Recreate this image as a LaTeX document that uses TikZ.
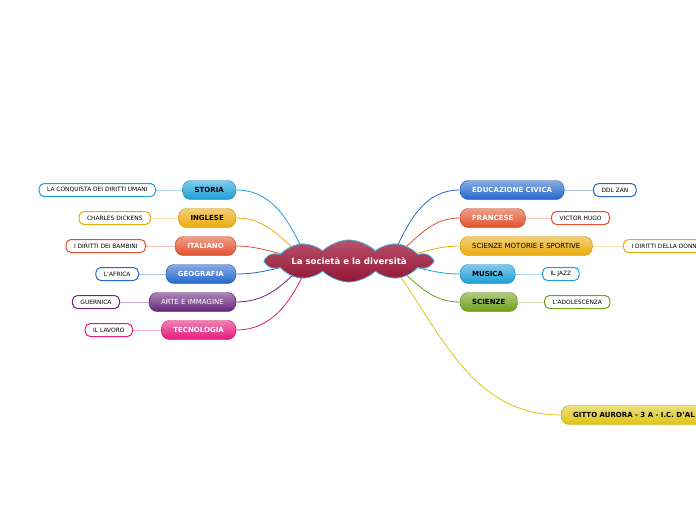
\documentclass[tikz,border=0pt]{standalone}
\usepackage{fontspec}
\setmainfont{DejaVu Sans}
\usepackage{xcolor}
\usetikzlibrary{shapes.symbols,backgrounds,calc}

\definecolor{cielo}{HTML}{1C9ED8}
\definecolor{giallo}{HTML}{EAAA08}
\definecolor{arancio}{HTML}{E2502C}
\definecolor{blu}{HTML}{2466CC}
\definecolor{viola}{HTML}{642478}
\definecolor{rosa}{HTML}{E4187A}
\definecolor{verde}{HTML}{6EA018}
\definecolor{oro}{HTML}{DCC414}
\definecolor{bordeaux}{HTML}{A2183A}

\begin{document}
\begin{tikzpicture}[
  x=1pt, y=-1pt,
  subj/.style={rounded corners=8pt, draw=#1!85!black, line width=0.4pt,
               top color=#1!55!white, bottom color=#1, minimum height=19pt,
               inner xsep=12pt, inner ysep=0pt, font=\bfseries\fontsize{7}{8}\selectfont},
  leaf/.style={draw=#1, line width=1pt, fill=white, rounded corners=5pt,
               minimum height=13pt, inner xsep=8pt, inner ysep=0pt,
               font=\fontsize{5.9}{6.5}\selectfont},
  link/.style={draw=#1, line width=0.8pt},
  twig/.style={draw=#1!35!white, line width=1pt}
]
\useasboundingbox (0,0) rectangle (696,520);
\clip (0,0) rectangle (696,520);

% centro
\node[cloud, cloud puffs=10, cloud puff arc=90, aspect=8,
      inner xsep=2.5pt, inner ysep=0pt,
      draw=cielo!80!white, line width=0.8pt,
      top color=bordeaux!75!white, bottom color=bordeaux!90!black,
      text=white, font=\bfseries\fontsize{8.6}{9}\selectfont] (soc) at (349,261) {La società e la diversità};

% materie a sinistra
\node[subj=cielo, anchor=east] (storia) at (236,190) {STORIA};
\node[subj=giallo, anchor=east] (inglese) at (236,218) {INGLESE};
\node[subj=arancio, anchor=east, text=white] (italiano) at (236,246) {ITALIANO};
\node[subj=blu, anchor=east, text=white] (geografia) at (236,274) {GEOGRAFIA};
\node[subj=viola, anchor=east, text=white, font=\fontsize{7}{8}\selectfont] (arte) at (236,302) {ARTE E IMMAGINE};
\node[subj=rosa, anchor=east, text=white] (tecnologia) at (236,330) {TECNOLOGIA};

% materie a destra
\node[subj=blu, anchor=west, text=white] (civica) at (460,190) {EDUCAZIONE CIVICA};
\node[subj=arancio, anchor=west, text=white] (francese) at (460,218) {FRANCESE};
\node[subj=giallo, anchor=west, font=\fontsize{7}{8}\selectfont] (motorie) at (460,246) {SCIENZE MOTORIE E SPORTIVE};
\node[subj=cielo, anchor=west] (musica) at (460,274) {MUSICA};
\node[subj=verde, anchor=west] (scienze) at (460,302) {SCIENZE};
\node[subj=oro, anchor=west, inner xsep=12pt] (autrice) at (561,415) {GITTO AURORA - 3 A - I.C. D'AL\hspace{20pt}};

% argomenti
\node[leaf=cielo, anchor=east] (diritti) at (156,190) {LA CONQUISTA DEI DIRITTI UMANI};
\node[leaf=giallo, anchor=east] (dickens) at (151,218) {CHARLES DICKENS};
\node[leaf=arancio, anchor=east] (bambini) at (146,246) {I DIRITTI DEI BAMBINI};
\node[leaf=blu, anchor=east] (africa) at (139,274) {L'AFRICA};
\node[leaf=viola, anchor=east] (guernica) at (120,302) {GUERNICA};
\node[leaf=rosa, anchor=east] (lavoro) at (133,330) {IL LAVORO};
\node[leaf=blu, anchor=west] (zan) at (593,190) {DDL ZAN};
\node[leaf=arancio, anchor=west] (hugo) at (551,218) {VICTOR HUGO};
\node[leaf=giallo, anchor=west] (donna) at (623,246) {I DIRITTI DELLA DONNA};
\node[leaf=cielo, anchor=west] (jazz) at (542,274) {IL JAZZ};
\node[leaf=verde, anchor=west] (adolescenza) at (544,302) {L'ADOLESCENZA};

\begin{pgfonlayer}{background}
\draw[link=cielo] (storia.east) to[out=0,in=115] ($(soc.center)+(-45,-8)$);
\draw[link=giallo] (inglese.east) to[out=0,in=140] ($(soc.center)+(-50,-8)$);
\draw[link=arancio] (italiano.east) to[out=0,in=172] ($(soc.center)+(-55,-5)$);
\draw[link=blu] (geografia.east) to[out=0,in=190] ($(soc.center)+(-55,4)$);
\draw[link=viola] (arte.east) to[out=0,in=225] ($(soc.center)+(-48,6)$);
\draw[link=rosa] (tecnologia.east) to[out=0,in=245] ($(soc.center)+(-42,6)$);
\draw[link=blu] (civica.west) to[out=180,in=65] ($(soc.center)+(45,-8)$);
\draw[link=arancio] (francese.west) to[out=180,in=40] ($(soc.center)+(50,-8)$);
\draw[link=giallo] (motorie.west) to[out=180,in=10] ($(soc.center)+(55,-5)$);
\draw[link=cielo] (musica.west) to[out=180,in=-10] ($(soc.center)+(55,4)$);
\draw[link=verde] (scienze.west) to[out=180,in=-40] ($(soc.center)+(48,6)$);
\draw[link=oro] (autrice.west) to[out=180,in=-55] ($(soc.center)+(45,6)$);

\draw[twig=cielo] (diritti) -- (storia);
\draw[twig=giallo] (dickens) -- (inglese);
\draw[twig=arancio] (bambini) -- (italiano);
\draw[twig=blu] (africa) -- (geografia);
\draw[twig=viola] (guernica) -- (arte);
\draw[twig=rosa] (lavoro) -- (tecnologia);
\draw[twig=blu] (civica) -- (zan);
\draw[twig=arancio] (francese) -- (hugo);
\draw[twig=giallo] (motorie) -- (donna);
\draw[twig=cielo] (musica) -- (jazz);
\draw[twig=verde] (scienze) -- (adolescenza);
\end{pgfonlayer}
\end{tikzpicture}
\end{document}
